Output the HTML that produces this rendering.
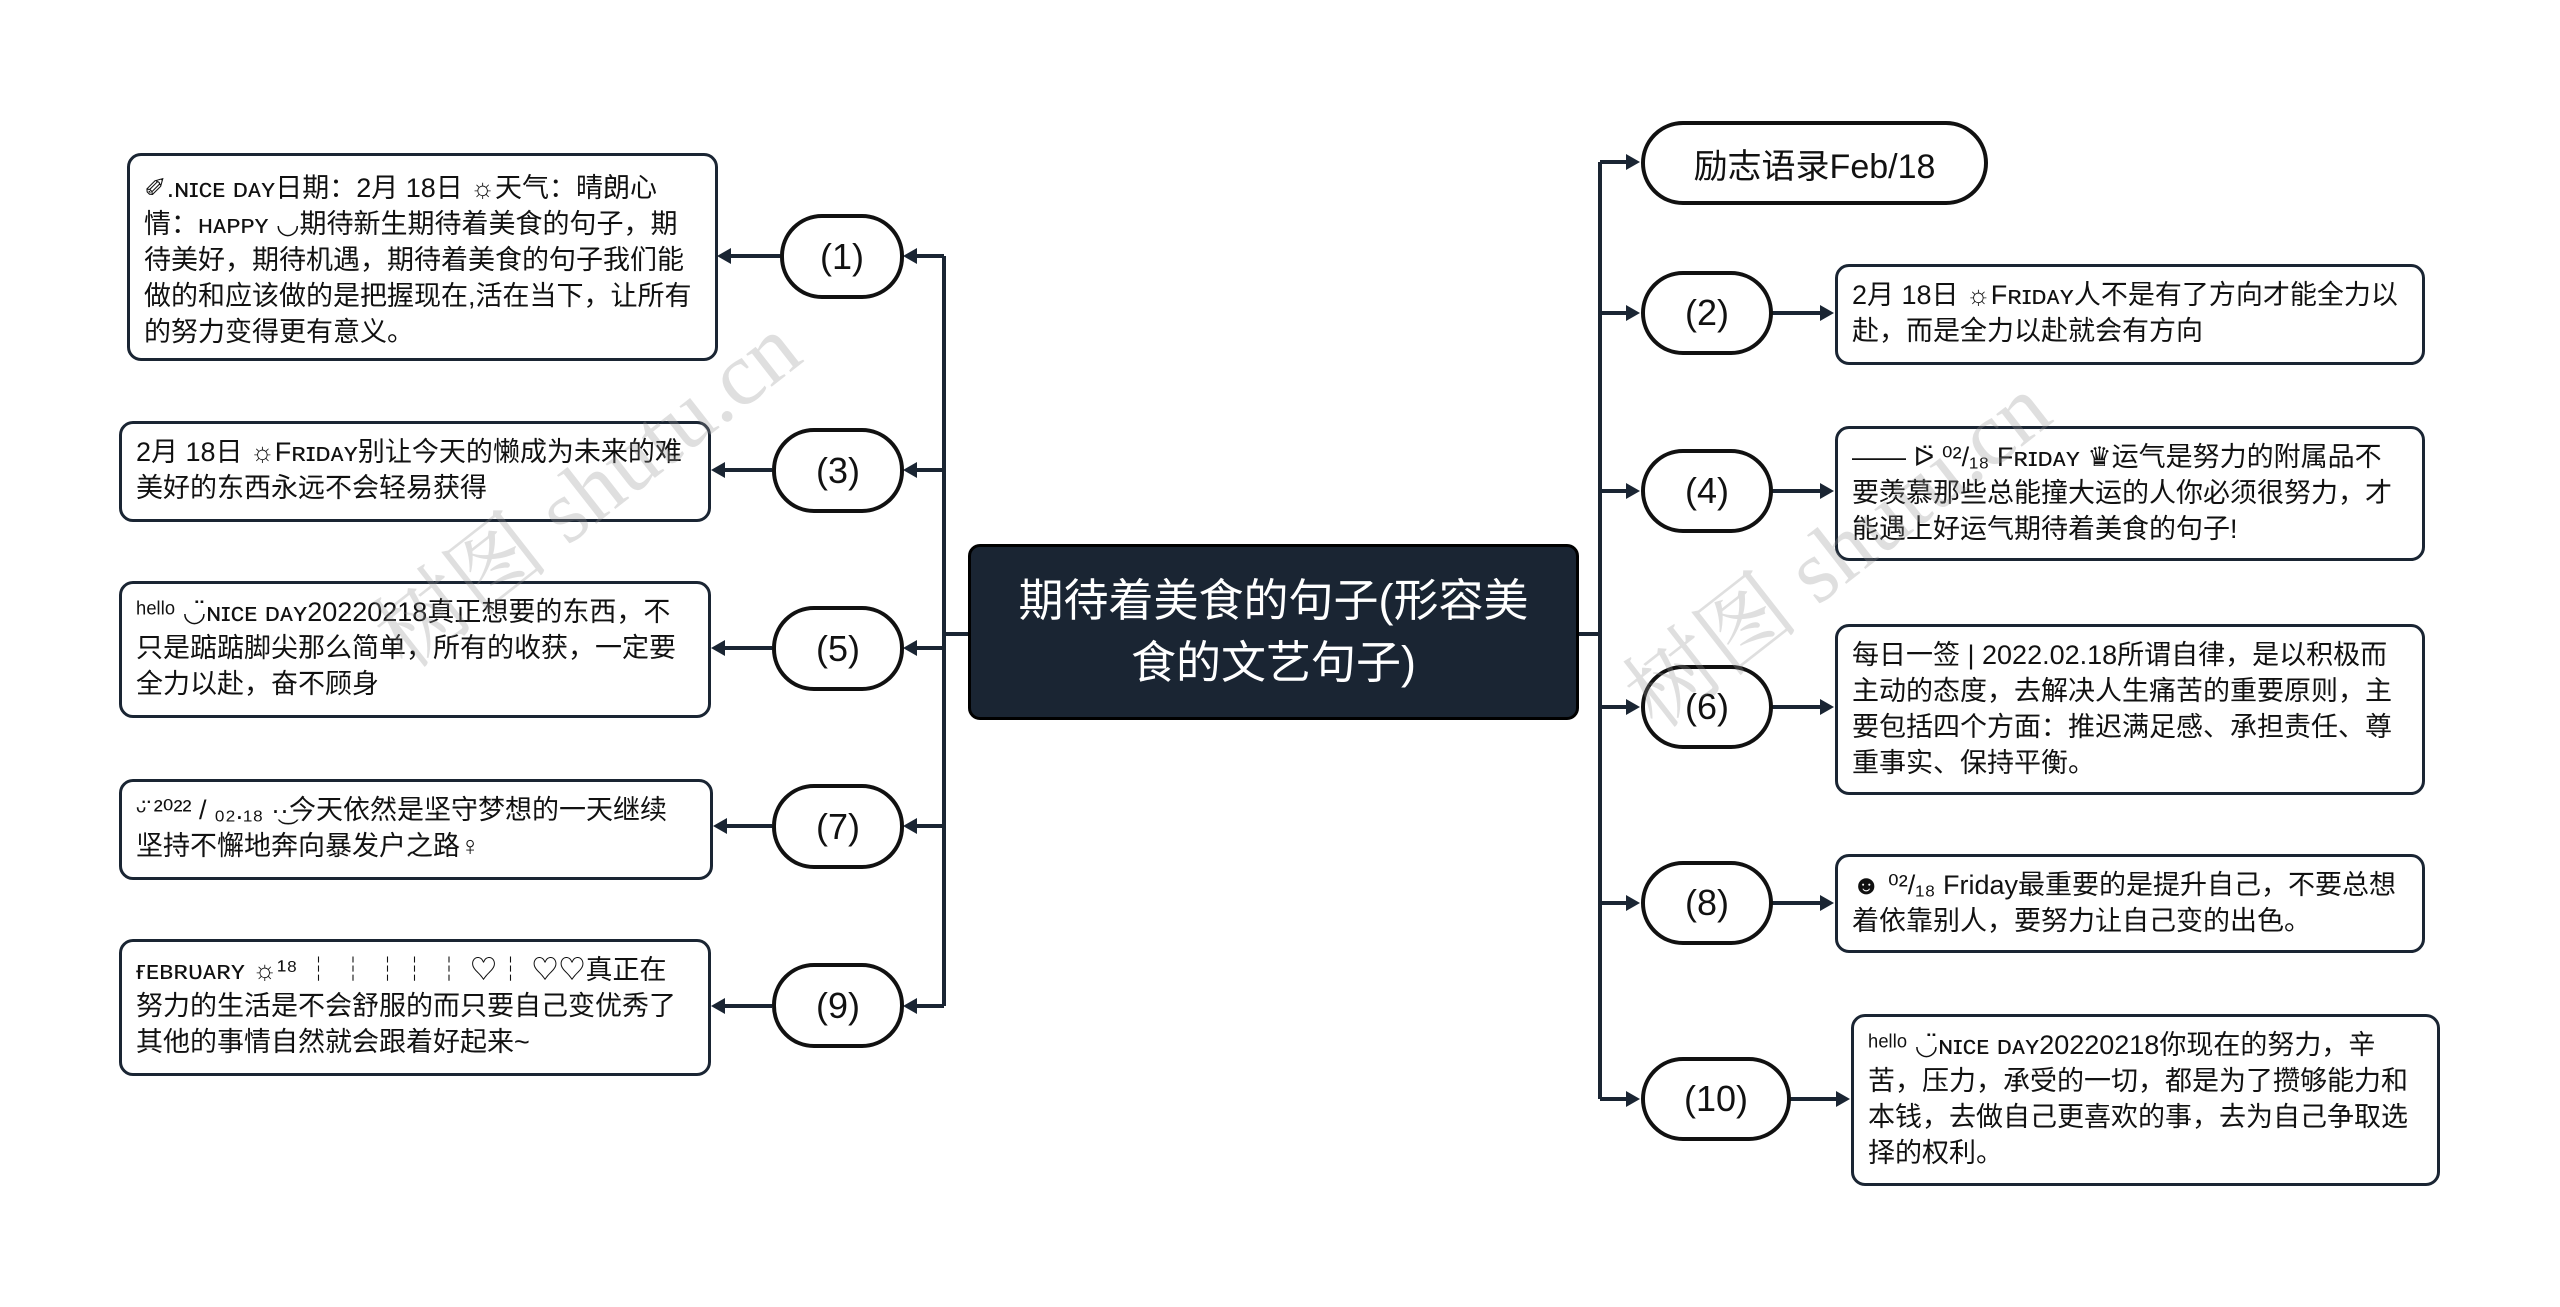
<!DOCTYPE html>
<html><head><meta charset="utf-8"><style>
body{margin:0;width:2560px;height:1307px;background:#fff;position:relative;overflow:hidden;font-family:"Liberation Sans","Noto Sans CJK SC",sans-serif;color:#111}
.b{position:absolute;box-sizing:border-box;border:3px solid #1a2533;border-radius:14px;background:#fff;padding:10px 18px 10px 14px;font-size:27px;line-height:36px;overflow:hidden}
.n{position:absolute;box-sizing:border-box;border:4px solid #111;border-radius:42px;background:#fff;font-size:36px;display:flex;align-items:center;justify-content:center}
.c{position:absolute;left:968px;top:544px;width:611px;height:176px;box-sizing:border-box;background:#1a2533;border:3px solid #000;border-radius:12px;color:#fff;font-size:45px;line-height:62px;display:flex;align-items:center;justify-content:center;text-align:center;padding:0 36px}
.w{position:absolute;color:rgba(150,150,150,.3);font-size:90px;font-family:"Liberation Serif","Noto Serif CJK SC",serif;transform:rotate(-38deg);white-space:nowrap}
</style></head><body>
<svg width="2560" height="1307" style="position:absolute;left:0;top:0">
<g stroke="#1a2533" stroke-width="4" fill="none">
<line x1="944" y1="256" x2="944" y2="1006"/>
<line x1="944" y1="634" x2="968" y2="634"/>
<line x1="944" y1="256" x2="912" y2="256"/><line x1="780" y1="256" x2="726" y2="256"/>
<line x1="944" y1="470" x2="912" y2="470"/><line x1="772" y1="470" x2="720" y2="470"/>
<line x1="944" y1="648" x2="912" y2="648"/><line x1="772" y1="648" x2="720" y2="648"/>
<line x1="944" y1="826" x2="912" y2="826"/><line x1="772" y1="826" x2="722" y2="826"/>
<line x1="944" y1="1006" x2="912" y2="1006"/><line x1="772" y1="1006" x2="720" y2="1006"/>
<line x1="1600" y1="162" x2="1600" y2="1099"/>
<line x1="1579" y1="634" x2="1600" y2="634"/>
<line x1="1600" y1="162" x2="1630" y2="162"/>
<line x1="1600" y1="313" x2="1630" y2="313"/><line x1="1772" y1="313" x2="1824" y2="313"/>
<line x1="1600" y1="491" x2="1630" y2="491"/><line x1="1772" y1="491" x2="1824" y2="491"/>
<line x1="1600" y1="707" x2="1630" y2="707"/><line x1="1772" y1="707" x2="1824" y2="707"/>
<line x1="1600" y1="903" x2="1630" y2="903"/><line x1="1772" y1="903" x2="1824" y2="903"/>
<line x1="1600" y1="1099" x2="1630" y2="1099"/><line x1="1790" y1="1099" x2="1840" y2="1099"/>
</g>
<g fill="#1a2533">
<polygon points="903,256 917,248 917,264"/><polygon points="717,256 731,248 731,264"/>
<polygon points="903,470 917,462 917,478"/><polygon points="711,470 725,462 725,478"/>
<polygon points="903,648 917,640 917,656"/><polygon points="711,648 725,640 725,656"/>
<polygon points="903,826 917,818 917,834"/><polygon points="713,826 727,818 727,834"/>
<polygon points="903,1006 917,998 917,1014"/><polygon points="711,1006 725,998 725,1014"/>
<polygon points="1640,162 1626,154 1626,170"/>
<polygon points="1640,313 1626,305 1626,321"/><polygon points="1834,313 1820,305 1820,321"/>
<polygon points="1640,491 1626,483 1626,499"/><polygon points="1834,491 1820,483 1820,499"/>
<polygon points="1640,707 1626,699 1626,715"/><polygon points="1834,707 1820,699 1820,715"/>
<polygon points="1640,903 1626,895 1626,911"/><polygon points="1834,903 1820,895 1820,911"/>
<polygon points="1640,1099 1626,1091 1626,1107"/><polygon points="1850,1099 1836,1091 1836,1107"/>
</g></svg>

<div class="c">期待着美食的句子(形容美食的文艺句子)</div>

<div class="n" style="left:780px;top:214px;width:124px;height:85px">(1)</div>
<div class="n" style="left:772px;top:428px;width:132px;height:85px">(3)</div>
<div class="n" style="left:772px;top:606px;width:132px;height:85px">(5)</div>
<div class="n" style="left:772px;top:784px;width:132px;height:85px">(7)</div>
<div class="n" style="left:772px;top:963px;width:132px;height:85px">(9)</div>

<div class="b" style="left:127px;top:153px;width:591px;height:208px;padding-top:14px">✐.ɴɪᴄᴇ ᴅᴀʏ日期：2月 18日 ☼天气：晴朗心情：ʜᴀᴘᴘʏ ◡期待新生期待着美食的句子，期待美好，期待机遇，期待着美食的句子我们能做的和应该做的是把握现在,活在当下，让所有的努力变得更有意义。</div>
<div class="b" style="left:119px;top:421px;width:592px;height:101px">2月 18日 ☼Fʀɪᴅᴀʏ别让今天的懒成为未来的难美好的东西永远不会轻易获得</div>
<div class="b" style="left:119px;top:581px;width:592px;height:137px">ʰᵉˡˡᵒ ◡̈ɴɪᴄᴇ ᴅᴀʏ20220218真正想要的东西，不只是踮踮脚尖那么简单，所有的收获，一定要全力以赴，奋不顾身</div>
<div class="b" style="left:119px;top:779px;width:594px;height:101px">ᵕ̈ ²⁰²² / ₀₂.₁₈ ·͜·今天依然是坚守梦想的一天继续坚持不懈地奔向暴发户之路♀</div>
<div class="b" style="left:119px;top:939px;width:592px;height:137px">ғᴇʙʀᴜᴀʀʏ ☼¹⁸ ┆ ┆ ┆┆ ┆ ♡┆ ♡♡真正在努力的生活是不会舒服的而只要自己变优秀了其他的事情自然就会跟着好起来~</div>

<div class="n" style="left:1641px;top:121px;width:347px;height:84px;font-size:34px">励志语录Feb/18</div>
<div class="n" style="left:1641px;top:271px;width:132px;height:84px">(2)</div>
<div class="n" style="left:1641px;top:449px;width:132px;height:84px">(4)</div>
<div class="n" style="left:1641px;top:665px;width:132px;height:84px">(6)</div>
<div class="n" style="left:1641px;top:861px;width:132px;height:84px">(8)</div>
<div class="n" style="left:1641px;top:1057px;width:150px;height:84px">(10)</div>

<div class="b" style="left:1835px;top:264px;width:590px;height:101px;padding-right:8px">2月 18日 ☼Fʀɪᴅᴀʏ人不是有了方向才能全力以赴，而是全力以赴就会有方向</div>
<div class="b" style="left:1835px;top:426px;width:590px;height:135px">—— ᐅ̈ ⁰²/₁₈ Fʀɪᴅᴀʏ ♛运气是努力的附属品不要羡慕那些总能撞大运的人你必须很努力，才能遇上好运气期待着美食的句子!</div>
<div class="b" style="left:1835px;top:624px;width:590px;height:171px">每日一签 | 2022.02.18所谓自律，是以积极而主动的态度，去解决人生痛苦的重要原则，主要包括四个方面：推迟满足感、承担责任、尊重事实、保持平衡。</div>
<div class="b" style="left:1835px;top:854px;width:590px;height:99px">☻ ⁰²/₁₈ Friday最重要的是提升自己，不要总想着依靠别人，要努力让自己变的出色。</div>
<div class="b" style="left:1851px;top:1014px;width:589px;height:172px">ʰᵉˡˡᵒ ◡̈ɴɪᴄᴇ ᴅᴀʏ20220218你现在的努力，辛苦，压力，承受的一切，都是为了攒够能力和本钱，去做自己更喜欢的事，去为自己争取选择的权利。</div>

<div class="w" style="left:330px;top:420px">树图 shutu.cn</div>
<div class="w" style="left:1580px;top:480px">树图 shutu.cn</div>
</body></html>
